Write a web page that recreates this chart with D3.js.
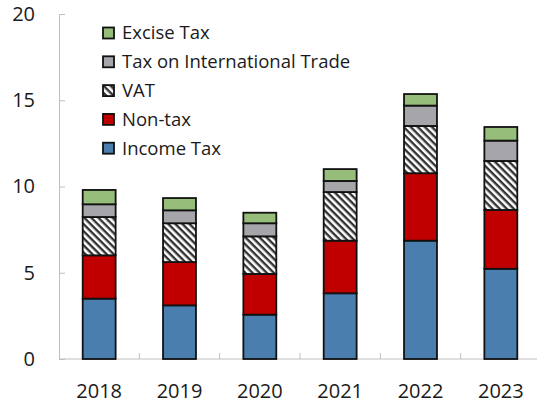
<!DOCTYPE html>
<html>
<head>
<meta charset="utf-8">
<script src="https://cdn.jsdelivr.net/npm/d3@7"></script>
<style>
  body { margin: 0; background: #fff; }
  text { font-family: "Open Sans", "Noto Sans", sans-serif; fill: #1a1a1a; }
</style>
</head>
<body>
<div id="chart"></div>
<script>
// data
var years = ["2018", "2019", "2020", "2021", "2022", "2023"];
var incomeTax = [3.50, 3.11, 2.57, 3.81, 6.86, 5.23];
var nonTax    = [2.51, 2.51, 2.36, 3.05, 3.91, 3.41];
var vat       = [2.22, 2.25, 2.18, 2.82, 2.74, 2.84];
var tradeTax  = [0.74, 0.75, 0.76, 0.64, 1.18, 1.18];
var exciseTax = [0.83, 0.71, 0.61, 0.69, 0.67, 0.79];
var yTicks = [0, 5, 10, 15, 20];

var series = [
    {name: "Income Tax", values: incomeTax, fill: "#4A7EAF"},
    {name: "Non-tax", values: nonTax, fill: "#C00000"},
    {name: "VAT", values: vat, fill: "url(#hatch)"},
    {name: "Tax on International Trade", values: tradeTax, fill: "#A6A6AA"},
    {name: "Excise Tax", values: exciseTax, fill: "#96BE7A"}
];

var width = 537, height = 404;
var margin = {top: 14, right: -4, bottom: 45, left: 59};
var w = width - margin.left - margin.right,
    h = height - margin.top - margin.bottom;

var svg = d3.select("#chart").append("svg")
    .attr("width", width)
    .attr("height", height);

// hatch pattern for VAT (stripes running top-left to bottom-right)
var defs = svg.append("defs");
var pat = defs.append("pattern")
    .attr("id", "hatch")
    .attr("patternUnits", "userSpaceOnUse")
    .attr("width", 5)
    .attr("height", 5)
    .attr("patternTransform", "rotate(45)");
pat.append("rect").attr("width", 5).attr("height", 5).attr("fill", "#fff");
pat.append("rect").attr("width", 5).attr("height", 2.4).attr("fill", "#333");

var g = svg.append("g")
    .attr("transform", "translate(" + margin.left + "," + margin.top + ")");

var x = d3.scaleBand().domain(years).range([0, w]).paddingInner(0.59).paddingOuter(0.295);
var xb = d3.scaleBand().domain(years).range([0, w]); // for category ticks
var y = d3.scaleLinear().domain([0, 20]).range([h, 0]);

// stack the data
var rows = years.map(function (yr, i) {
    var r = {year: yr};
    series.forEach(function (s) { r[s.name] = s.values[i]; });
    return r;
});
var stacked = d3.stack().keys(series.map(function (s) { return s.name; }))(rows);

// y axis
var yAxis = g.append("g").call(d3.axisLeft(y).tickValues(yTicks).tickSize(-6).tickPadding(24));
yAxis.select(".domain").attr("stroke", "#BFBFBF");
yAxis.selectAll(".tick line").attr("stroke", "#BFBFBF");
yAxis.selectAll("text").style("font-size", "20px").attr("fill", "#1a1a1a");

// x axis
var xAxis = g.append("g").attr("transform", "translate(0," + h + ")");
xAxis.append("line").attr("x1", 0).attr("x2", w + 10).attr("stroke", "#BFBFBF");
xAxis.selectAll(".ctick")
    .data(years.slice(1))
    .enter().append("line")
    .attr("x1", function (d) { return xb(d); })
    .attr("x2", function (d) { return xb(d); })
    .attr("y1", 0).attr("y2", -6)
    .attr("stroke", "#BFBFBF");
xAxis.selectAll(".xlabel")
    .data(years)
    .enter().append("text")
    .attr("x", function (d) { return x(d) + x.bandwidth() / 2; })
    .attr("y", 39)
    .attr("text-anchor", "middle")
    .style("font-size", "20px")
    .text(function (d) { return d; });

// bars
stacked.forEach(function (layer, si) {
    g.selectAll(".bar" + si)
        .data(layer)
        .enter().append("rect")
        .attr("x", function (d) { return x(d.data.year); })
        .attr("width", x.bandwidth())
        .attr("y", function (d) { return y(d[1]); })
        .attr("height", function (d) { return y(d[0]) - y(d[1]); })
        .attr("fill", series[si].fill)
        .attr("stroke", "#111")
        .attr("stroke-width", 1.8);
});

// legend (top to bottom: reversed order)
var legend = svg.append("g").attr("transform", "translate(103,33)");
series.slice().reverse().forEach(function (s, i) {
    var row = legend.append("g").attr("transform", "translate(0," + (i * 28.8) + ")");
    row.append("rect")
        .attr("x", 0).attr("y", -5.5)
        .attr("width", 11).attr("height", 11)
        .attr("fill", s.fill)
        .attr("stroke", "#111")
        .attr("stroke-width", 1.8);
    row.append("text")
        .attr("x", 19).attr("y", 0)
        .attr("dy", "0.35em")
        .style("font-size", "18.5px")
        .text(s.name);
});
</script>
</body>
</html>
